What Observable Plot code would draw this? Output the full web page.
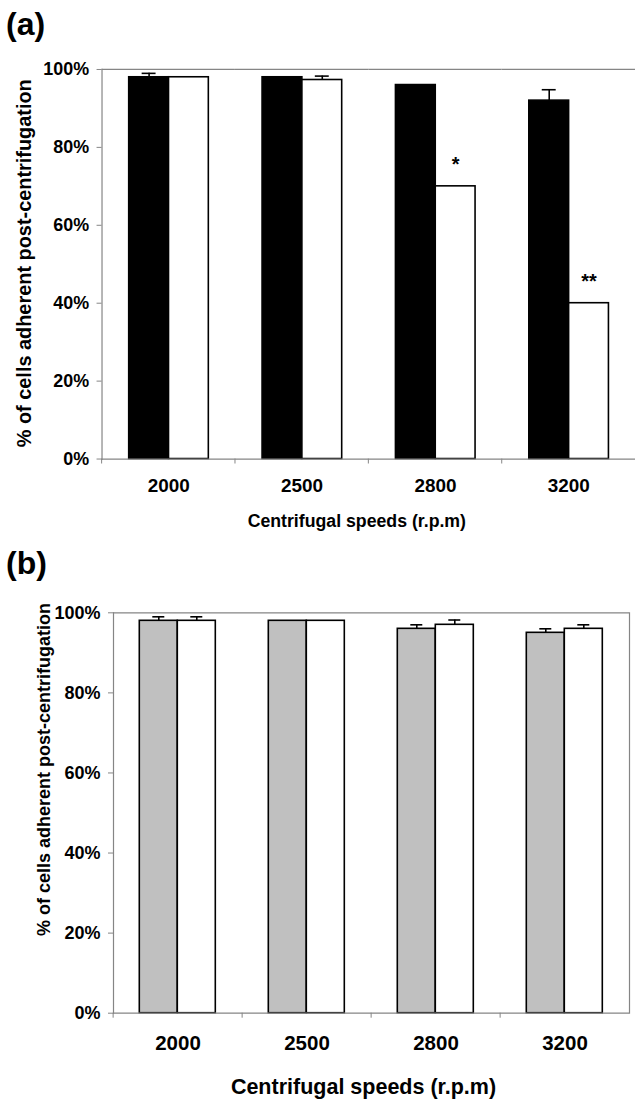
<!DOCTYPE html>
<html><head><meta charset="utf-8">
<script src="https://cdn.jsdelivr.net/npm/d3@7"></script>
<script src="https://cdn.jsdelivr.net/npm/@observablehq/plot@0.6"></script>
<style>
html,body{margin:0;padding:0;background:#fff;overflow:hidden}
#page{position:relative;width:637px;height:1099px;overflow:hidden;font-family:"Liberation Sans",Arial,sans-serif;background:#fff}
.panel{position:absolute;left:0}
.tag{position:absolute;left:6px;font-weight:bold;font-size:32px;line-height:1;font-family:"Liberation Sans",Arial,sans-serif}
</style></head><body><div id="page"></div>
<script>
// ---- data ----
const speeds = ["2000", "2500", "2800", "3200"];
const seriesKeys = ["control", "test"];
const aControl = [98, 98, 96, 92];
const aControlErr = [1, 0, 0, 2.8];
const aTest = [98, 97.3, 70, 40];
const aTestErr = [0, 1, 0, 0];
const aSig = ["", "", "*", "**"];
const bControl = [98, 98, 96, 95];
const bControlErr = [1, 0, 1, 1];
const bTest = [98, 98, 97, 96];
const bTestErr = [1, 0, 1.2, 1];
const bSig = ["", "", "", ""];
const yTicks = [0, 20, 40, 60, 80, 100];
const yTitle = "% of cells adherent post-centrifugation";
const xTitle = "Centrifugal speeds (r.p.m)";
const panelTags = ["(a)", "(b)"];

const GRAY = "#858585";
const FONT = '"Liberation Sans", Arial, sans-serif';

function rowsFor(control, controlErr, test, testErr, sig) {
  return speeds.flatMap((s, i) => [
    {speed: s, series: seriesKeys[0], value: control[i], err: controlErr[i], sig: ""},
    {speed: s, series: seriesKeys[1], value: test[i], err: testErr[i], sig: sig[i]}
  ]);
}

function panel(cfg) {
  const rows = rowsFor(cfg.control, cfg.controlErr, cfg.test, cfg.testErr, cfg.sig);
  const errRows = rows.filter(d => d.err > 0);
  const sigRows = rows.filter(d => d.sig);
  const half = (cfg.width - cfg.marginLeft - cfg.marginRight) / speeds.length / 2;
  return Plot.plot({
    width: cfg.width, height: cfg.height,
    marginTop: cfg.marginTop, marginBottom: cfg.marginBottom,
    marginLeft: cfg.marginLeft, marginRight: cfg.marginRight,
    style: {fontFamily: FONT, fontWeight: "bold", fontSize: "18px", background: "transparent", color: "#000", overflow: "visible"},
    fx: {domain: speeds, padding: 0, label: null},
    x: {domain: seriesKeys, paddingInner: 0, paddingOuter: 0.66, axis: null},
    y: {domain: [0, 100], label: null},
    color: {domain: seriesKeys, range: [cfg.controlColor, "#ffffff"]},
    marks: [
      Plot.barY(rows, {fx: "speed", x: "series", y: "value", fill: "series", stroke: "#000", strokeWidth: 1.6}),
      Plot.ruleX(errRows, {fx: "speed", x: "series", y1: "value", y2: d => d.value + d.err, stroke: "#000", strokeWidth: 1.6}),
      Plot.tickY(errRows, {fx: "speed", x: "series", y: d => d.value + d.err, stroke: "#000", strokeWidth: 1.6, insetLeft: 13, insetRight: 13}),
      Plot.text(sigRows, {fx: "speed", x: "series", y: "value", text: "sig", dy: -22, fontSize: 20}),
      Plot.ruleY([0, 100], {stroke: GRAY, strokeWidth: 1.2}),
      Plot.frame({anchor: "left", facetAnchor: "left", stroke: GRAY, strokeWidth: 1.2}),
      ...(cfg.rightBorder ? [Plot.frame({anchor: "right", facetAnchor: "right", stroke: GRAY, strokeWidth: 1.2})] : []),
      Plot.axisY(yTicks, {tickFormat: d => d + "%", tickSize: 5, tickPadding: 8, stroke: GRAY, fontSize: 18, label: null}),
      Plot.axisFx({anchor: "bottom", tickSize: 0, tickPadding: cfg.xTickPad, fontSize: cfg.xTickFont, label: null}),
      Plot.axisFx({anchor: "bottom", tickSize: 5, fill: "none", stroke: GRAY, dx: -half, label: null}),
      Plot.text([yTitle], {text: d => d, facet: "super", frameAnchor: "left", rotate: -90, textAnchor: "middle", lineAnchor: "middle", dx: cfg.yTitleDx, dy: cfg.yTitleDy, fontSize: cfg.yTitleFont}),
      Plot.text([xTitle], {text: d => d, facet: "super", frameAnchor: "bottom", textAnchor: "middle", lineAnchor: "middle", dx: cfg.xTitleDx, dy: cfg.xTitleDy, fontSize: cfg.xTitleFont})
    ]
  });
}

const page = document.getElementById("page");

const pa = document.createElement("div");
pa.className = "panel"; pa.style.top = "0px";
pa.appendChild(panel({
  control: aControl, controlErr: aControlErr, test: aTest, testErr: aTestErr, sig: aSig,
  controlColor: "#000000",
  width: 640, height: 545, marginTop: 69.3, marginBottom: 84.3, marginLeft: 100.7, marginRight: 0,
  rightBorder: false,
  xTickPad: 20, xTickFont: 19,
  yTitleDx: -77.7, yTitleDy: -1, yTitleFont: 20,
  xTitleDx: -12, xTitleDy: 63, xTitleFont: 17.8
}));
page.appendChild(pa);

const pb = document.createElement("div");
pb.className = "panel"; pb.style.top = "545px";
pb.appendChild(panel({
  control: bControl, controlErr: bControlErr, test: bTest, testErr: bTestErr, sig: bSig,
  controlColor: "#c0c0c0",
  width: 637, height: 554, marginTop: 67.3, marginBottom: 86.3, marginLeft: 111.7, marginRight: 6.3,
  rightBorder: true,
  xTickPad: 22, xTickFont: 20.5,
  yTitleDx: -69.7, yTitleDy: -43.5, yTitleFont: 18,
  xTitleDx: -8, xTitleDy: 73.5, xTitleFont: 21.5
}));
page.appendChild(pb);

const ta = document.createElement("div");
ta.className = "tag"; ta.style.top = "8px"; ta.textContent = panelTags[0];
page.appendChild(ta);
const tb = document.createElement("div");
tb.className = "tag"; tb.style.top = "547px"; tb.textContent = panelTags[1];
page.appendChild(tb);
</script>
</body></html>
